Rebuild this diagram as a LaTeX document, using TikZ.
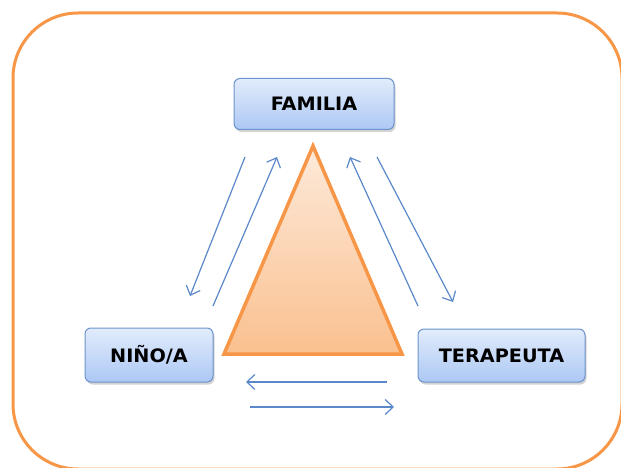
\documentclass[tikz,border=0pt]{standalone}
\usepackage{fontspec}
\newfontfamily\lblfont[FakeStretch=1.04]{DejaVu Sans}
\usetikzlibrary{arrows.meta,shadows}
\definecolor{orangeline}{HTML}{F79646}
\definecolor{trilight}{HTML}{FDEADA}
\definecolor{tridark}{HTML}{FAC08F}
\definecolor{boxline}{HTML}{6C93CC}
\definecolor{boxtop}{HTML}{E2ECFC}
\definecolor{boxbot}{HTML}{ACC8F4}
\definecolor{arrowblue}{HTML}{5A88C8}
\tikzset{
  box/.style={draw=boxline, line width=1pt, rounded corners=6pt,
    top color=boxtop, bottom color=boxbot,
    drop shadow={opacity=0.35, shadow xshift=1.5pt, shadow yshift=-2.5pt},
    font=\lblfont\bfseries\fontsize{18.5}{22}\selectfont, text=black,
    inner sep=0pt, anchor=center},
  flow/.style={draw=arrowblue, line width=1.2pt,
    -{Straight Barb[length=8pt,width=15pt,line width=1.2pt]}}
}
\begin{document}
\begin{tikzpicture}[x=1pt,y=-1pt]
\useasboundingbox (0,0) rectangle (621,468);
\draw[orangeline, line width=3pt, rounded corners=65pt] (13,13) rectangle (622,469);
% triangle
\coordinate (apex) at (313,146);
\coordinate (bl) at (224,354);
\coordinate (br) at (402,354);
\shade[top color=trilight, bottom color=tridark] (apex) -- (br) -- (bl) -- cycle;
\draw[orangeline, line width=3.5pt, line join=miter] (apex) -- (br) -- (bl) -- cycle;
% boxes
\node[box, minimum width=160pt, minimum height=51pt] (fam) at (314,104) {FAMILIA};
\node[box, minimum width=128pt, minimum height=54pt] (nino) at (149,355) {NIÑO/A};
\node[box, minimum width=167pt, minimum height=53pt] (ter) at (501.5,355.5) {TERAPEUTA};
% arrow endpoints
\coordinate (a1s) at (245,157); \coordinate (a1e) at (190,296);
\coordinate (a2s) at (213,306); \coordinate (a2e) at (277,157);
\coordinate (a3s) at (418,306); \coordinate (a3e) at (350,157);
\coordinate (a4s) at (377,157); \coordinate (a4e) at (453,302);
\coordinate (a5s) at (387,382); \coordinate (a5e) at (246,382);
\coordinate (a6s) at (250,407); \coordinate (a6e) at (394,407);
\draw[flow] (a1s) -- (a1e);
\draw[flow] (a2s) -- (a2e);
\draw[flow] (a3s) -- (a3e);
\draw[flow] (a4s) -- (a4e);
\draw[flow] (a5s) -- (a5e);
\draw[flow] (a6s) -- (a6e);
\end{tikzpicture}
\end{document}
